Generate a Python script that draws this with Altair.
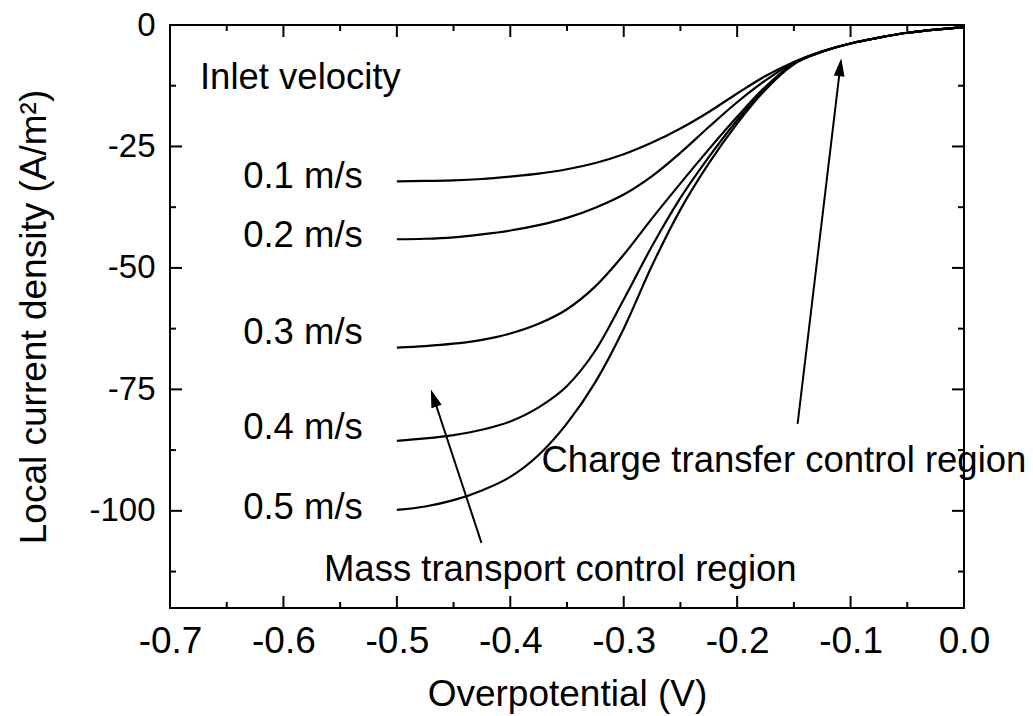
import math
import altair as alt
import pandas as pd

# ---------------- data ----------------
overpotential = [-0.5, -0.475, -0.45, -0.425, -0.4, -0.375, -0.35, -0.325, -0.3, -0.275, -0.25,
                 -0.225, -0.2, -0.175, -0.15, -0.125, -0.1, -0.075, -0.05, -0.025, 0.0]
current_01 = [-32.2, -32.1, -32.0, -31.7, -31.2, -30.6, -29.7, -28.4, -26.6, -24.2, -21.3,
              -17.9, -14.1, -10.5, -7.6, -5.4, -3.8, -2.6, -1.6, -0.95, -0.5]
current_02 = [-44.1, -44.0, -43.7, -43.1, -42.3, -41.2, -39.7, -37.6, -34.9, -31.1, -26.3,
              -21.0, -15.9, -11.4, -7.7, -5.4, -3.8, -2.6, -1.6, -0.95, -0.5]
current_03 = [-66.4, -66.1, -65.6, -64.8, -63.5, -61.5, -58.5, -53.8, -47.3, -39.8, -32.6,
              -25.6, -18.9, -12.7, -7.9, -5.5, -3.8, -2.6, -1.6, -0.95, -0.5]
current_04 = [-85.6, -85.1, -84.4, -83.3, -81.6, -78.7, -74.3, -67.0, -56.5, -45.5, -35.6,
              -27.2, -19.6, -13.0, -8.0, -5.5, -3.8, -2.6, -1.6, -0.95, -0.5]
current_05 = [-99.8, -99.1, -97.8, -95.8, -93.0, -88.5, -82.0, -73.5, -62.5, -49.5, -38.0,
              -28.5, -20.3, -13.3, -8.1, -5.5, -3.8, -2.6, -1.6, -0.95, -0.5]
velocities = ["0.1 m/s", "0.2 m/s", "0.3 m/s", "0.4 m/s", "0.5 m/s"]
series_values = [current_01, current_02, current_03, current_04, current_05]

# tick values
x_major = [-0.7, -0.6, -0.5, -0.4, -0.3, -0.2, -0.1, 0.0]
x_minor = [-0.65, -0.55, -0.45, -0.35, -0.25, -0.15, -0.05]
y_major = [0, -25, -50, -75, -100]
y_minor = [-12.5, -37.5, -62.5, -87.5, -112.5]

# annotation texts (anchor positions in data units)
vel_label_x = [-0.530, -0.530, -0.530, -0.530, -0.530]
vel_label_y = [-33.5, -45.6, -65.6, -85.2, -101.7]
note_text = ["Inlet velocity", "Charge transfer control region", "Mass transport control region"]
note_x = [-0.6736, -0.3725, -0.5643]
note_y = [-13.2, -92.1, -114.4]

# arrows: tail -> head
arrow_tail_x = [-0.4254, -0.1467]
arrow_tail_y = [-106.6, -82.1]
arrow_head_x = [-0.470, -0.1082]
arrow_head_y = [-75.0, -6.85]

# ---------------- layout ----------------
W, H = 794, 583
XMIN, XMAX = -0.7, 0.0
YMIN, YMAX = -120, 0
MAJ, MIN = 12, 6
FONT = "Liberation Sans"
FS_X = 37
FS_Y = 33
FS_TITLE = 37
FS_NOTE = 36.5

rows = []
for v, vals in zip(velocities, series_values):
    for xv, yv in zip(overpotential, vals):
        rows.append({"x": xv, "y": yv, "series": v})
curves = pd.DataFrame(rows)

xscale = alt.Scale(domain=[XMIN, XMAX], nice=False, zero=False)
yscale = alt.Scale(domain=[YMIN, YMAX], nice=False, zero=False)
xaxis = alt.Axis(values=x_major, title="Overpotential (V)",
                 labelExpr="replace(format(datum.value, '.1f'), '\u2212', '-')",
                 ticks=False, tickSize=0, domain=False, grid=False, labelFlush=False,
                 labelOverlap=False,
                 labelPadding=44, labelBaseline="alphabetic", labelFontSize=FS_X,
                 titleFontSize=FS_TITLE, titleFontWeight="normal",
                 titleX=W / 2, titleY=97, titleBaseline="alphabetic", titleAlign="center",
                 labelFont=FONT, titleFont=FONT, labelColor="black", titleColor="black")
yaxis = alt.Axis(values=y_major, title="Local current density (A/m\u00b2)",
                 labelExpr="replace(format(datum.value, 'd'), '\u2212', '-')",
                 ticks=False, tickSize=0, domain=False, grid=False, labelFlush=False,
                 labelOverlap=False,
                 labelPadding=15, labelFontSize=FS_Y,
                 titleFontSize=FS_TITLE, titleFontWeight="normal",
                 titleX=-125, titleY=H / 2, titleAngle=270, titleBaseline="alphabetic",
                 titleAlign="center",
                 labelFont=FONT, titleFont=FONT, labelColor="black", titleColor="black")

X = alt.X("x:Q", scale=xscale, axis=xaxis)
Y = alt.Y("y:Q", scale=yscale, axis=yaxis)

lines = alt.Chart(curves).mark_line(color="black", strokeWidth=2.2, interpolate="monotone").encode(
    x=X, y=Y, detail="series:N")

# inward ticks
dxmaj = pd.DataFrame({"x": x_major})
dxmin = pd.DataFrame({"x": x_minor})
dymaj = pd.DataFrame({"y": y_major})
dymin = pd.DataFrame({"y": y_minor})
tick_layers = []
for d, L in ((dxmaj, MAJ), (dxmin, MIN)):
    tick_layers.append(alt.Chart(d).mark_rule(color="black", strokeWidth=2).encode(
        x=X, y=alt.value(H), y2=alt.value(H - L)))
    tick_layers.append(alt.Chart(d).mark_rule(color="black", strokeWidth=2).encode(
        x=X, y=alt.value(0), y2=alt.value(L)))
for d, L in ((dymaj, MAJ), (dymin, MIN)):
    tick_layers.append(alt.Chart(d).mark_rule(color="black", strokeWidth=2).encode(
        y=Y, x=alt.value(0), x2=alt.value(L)))
    tick_layers.append(alt.Chart(d).mark_rule(color="black", strokeWidth=2).encode(
        y=Y, x=alt.value(W), x2=alt.value(W - L)))

# labels
vel_df = pd.DataFrame({"x": vel_label_x, "y": vel_label_y, "t": velocities})
vel_text = alt.Chart(vel_df).mark_text(align="right", baseline="alphabetic", font=FONT,
                                       fontSize=FS_NOTE, color="black").encode(x=X, y=Y, text="t:N")
note_df = pd.DataFrame({"x": note_x, "y": note_y, "t": note_text})
note_txt = alt.Chart(note_df).mark_text(align="left", baseline="alphabetic", font=FONT,
                                        fontSize=FS_NOTE, color="black").encode(x=X, y=Y, text="t:N")

# arrows
pxx = W / (XMAX - XMIN)
pxy = H / (YMAX - YMIN)
ar = []
for tx, ty, hx, hy in zip(arrow_tail_x, arrow_tail_y, arrow_head_x, arrow_head_y):
    dxp = (hx - tx) * pxx
    dyp = -(hy - ty) * pxy
    ln = math.hypot(dxp, dyp)
    ux, uy = dxp / ln, dyp / ln
    ang = math.degrees(math.atan2(dxp, -dyp)) % 360
    ex = hx - 8 * ux / pxx
    ey = hy + 8 * uy / pxy
    ar.append({"x": tx, "y": ty, "x2": ex, "y2": ey, "hx": hx, "hy": hy, "angle": ang})
arr_df = pd.DataFrame(ar)
arrow_shaft = alt.Chart(arr_df).mark_rule(color="black", strokeWidth=2).encode(
    x=X, y=Y, x2="x2:Q", y2="y2:Q")
arrow_head = alt.Chart(arr_df).mark_point(
    shape="M0,0L0.6,2L-0.6,2Z", filled=True, color="black", size=324, opacity=1, strokeWidth=0
).encode(x=alt.X("hx:Q", scale=xscale, axis=xaxis), y=alt.Y("hy:Q", scale=yscale, axis=yaxis),
         angle=alt.Angle("angle:Q", scale=None))

chart = alt.layer(lines, *tick_layers, vel_text, note_txt, arrow_shaft, arrow_head).properties(
    width=W, height=H,
    autosize=alt.AutoSizeParams(type="none"),
    padding={"left": 170, "top": 25, "right": 69, "bottom": 108},
    background="white",
).configure_view(stroke="black", strokeWidth=2)

chart.save("out.html", embed_options={"renderer": "svg", "actions": False})
